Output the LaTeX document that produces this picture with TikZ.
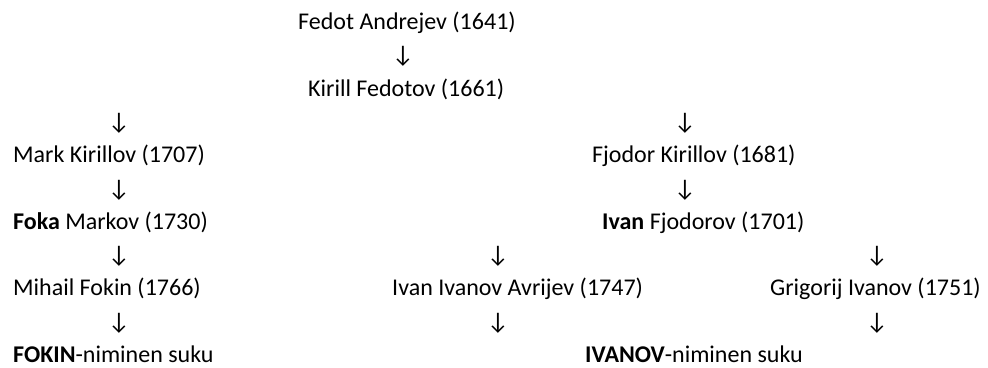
\documentclass[tikz,border=0pt]{standalone}
\usepackage{fontspec}
\setmainfont{Carlito}
\begin{document}
\begin{tikzpicture}[x=1pt,y=-1pt,
  lbl/.style={inner sep=0pt,anchor=base west,font=\fontsize{24}{28}\selectfont},
  arr/.style={inner sep=0pt,anchor=base,font=\fontsize{24}{28}\selectfont}]
\useasboundingbox (0,0) rectangle (988,367);
\def\ra{29.5}\def\rb{62.8}\def\rc{96.1}\def\rd{129.4}\def\re{162.7}\def\rf{196}
\def\rg{229.3}\def\rh{262.6}\def\ri{295.9}\def\rj{329.2}\def\rk{362.5}
\node[lbl] (fedot) at (298,\ra) {Fedot Andrejev (1641)};
\node[arr] (a1) at (403,\rb) {↓};
\node[lbl] (kirill) at (308,\rc) {Kirill Fedotov (1661)};
\node[arr] (a2) at (119,\rd) {↓};
\node[arr] (a3) at (685,\rd) {↓};
\node[lbl] (mark) at (13,\re) {Mark Kirillov (1707)};
\node[lbl] (fjodor) at (592,\re) {Fjodor Kirillov (1681)};
\node[arr] (a4) at (119,\rf) {↓};
\node[arr] (a5) at (685,\rf) {↓};
\node[lbl] (foka) at (13,\rg) {\textbf{Foka} Markov (1730)};
\node[lbl] (ivan) at (602,\rg) {\textbf{Ivan} Fjodorov (1701)};
\node[arr] (a6) at (119,\rh) {↓};
\node[arr] (a7) at (498,\rh) {↓};
\node[arr] (a8) at (877,\rh) {↓};
\node[lbl] (mihail) at (13,\ri) {Mihail Fokin (1766)};
\node[lbl] (avrijev) at (392,\ri) {Ivan Ivanov Avrijev (1747)};
\node[lbl] (grigorij) at (770,\ri) {Grigorij Ivanov (1751)};
\node[arr] (a9) at (119,\rj) {↓};
\node[arr] (a10) at (498,\rj) {↓};
\node[arr] (a11) at (877,\rj) {↓};
\node[lbl] (fokin) at (13,\rk) {\textbf{FOKIN}-niminen suku};
\node[lbl] (ivanov) at (585,\rk) {\textbf{IVANOV}-niminen suku};
\end{tikzpicture}
\end{document}
